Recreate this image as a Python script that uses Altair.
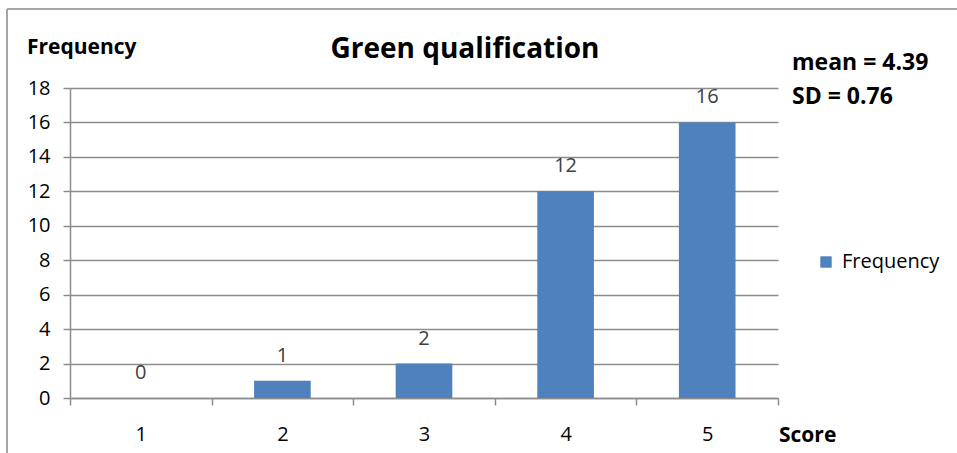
import altair as alt
import pandas as pd

# ---- data ----
scores = ["1", "2", "3", "4", "5"]
frequency = [0, 1, 2, 12, 16]
series_name = "Frequency"
title_text = "Green qualification"
y_title = "Frequency"
x_title = "Score"
stat_lines = ["mean = 4.39", "SD = 0.76"]
y_ticks = [0, 2, 4, 6, 8, 10, 12, 14, 16, 18]

df = pd.DataFrame({"score": scores, "freq": frequency, "series": [series_name] * len(scores)})

FONT = "Open Sans"
GRAY = "#8c8c8c"
BLUE = "#4f81bd"

base = alt.Chart(df)

x_enc = alt.X(
    "score:O",
    sort=scores,
    scale=alt.Scale(paddingInner=0, paddingOuter=0),
    axis=alt.Axis(
        title=None, labelAngle=0, tickBand="extent", grid=False,
        domainColor=GRAY, domainWidth=1.5, tickColor=GRAY, tickWidth=1.5, tickSize=7,
        labelFont=FONT, labelFontSize=20, labelColor="#000000", labelPadding=19,
    ),
)
y_enc = alt.Y(
    "freq:Q",
    scale=alt.Scale(domain=[0, 18], nice=False),
    axis=alt.Axis(
        title=None, values=y_ticks, tickCount=20, grid=True, gridColor=GRAY, gridWidth=1.5,
        labelOverlap=False, labelFlush=False,
        domainColor=GRAY, domainWidth=1.5, tickColor=GRAY, tickWidth=1.5, tickSize=7,
        labelFont=FONT, labelFontSize=20, labelColor="#000000", labelPadding=13,
    ),
)

bars = base.mark_bar(color=BLUE, width=alt.RelativeBandSize(0.4)).encode(
    x=x_enc,
    y=y_enc,
    color=alt.Color(
        "series:N",
        scale=alt.Scale(range=[BLUE]),
        legend=alt.Legend(
            title=None, orient="none", legendX=746, legendY=164, padding=0,
            symbolType="square", symbolSize=130, symbolStrokeWidth=0,
            labelFont=FONT, labelFontSize=20, labelColor="#000000", labelOffset=6,
        ),
    ),
)

labels = base.mark_text(
    font=FONT, fontSize=20, color="#404040", baseline="middle", dy=-25
).encode(x=alt.X("score:O", sort=scores), y="freq:Q", text="freq:Q")

one = alt.Data(values=[{}])

def txt(s, x, y, size, bold=True, align="left"):
    return alt.Chart(one).mark_text(
        font=FONT, fontSize=size, fontWeight="bold" if bold else "normal",
        align=align, baseline="middle", color="#000000",
    ).encode(x=alt.value(x), y=alt.value(y), text=alt.value(s))

title_mark = txt(title_text, 395, -38, 28, align="center")
ytitle_mark = txt(y_title, -43, -40, 21)
stat1 = txt(stat_lines[0], 722, -25, 23)
stat2 = txt(stat_lines[1], 722, 9, 23)
xtitle_mark = txt(x_title, 709, 348, 21)

frame_left = alt.Chart(one).mark_rule(color="#a6a6a6", strokeWidth=2).encode(
    x=alt.value(-63), y=alt.value(-79), y2=alt.value(380)
)
frame_top = alt.Chart(one).mark_rule(color="#a6a6a6", strokeWidth=2).encode(
    x=alt.value(-63), x2=alt.value(900), y=alt.value(-79)
)

chart = alt.layer(
    frame_left, frame_top, bars, labels, title_mark, ytitle_mark, stat1, stat2, xtitle_mark
).properties(
    width=708, height=310,
    autosize=alt.AutoSizeParams(type="none"),
    padding={"left": 70, "top": 88, "right": 179, "bottom": 55},
    background="white",
).configure_view(stroke=None)

chart.save("out.html", embed_options={"renderer": "svg", "actions": False})
